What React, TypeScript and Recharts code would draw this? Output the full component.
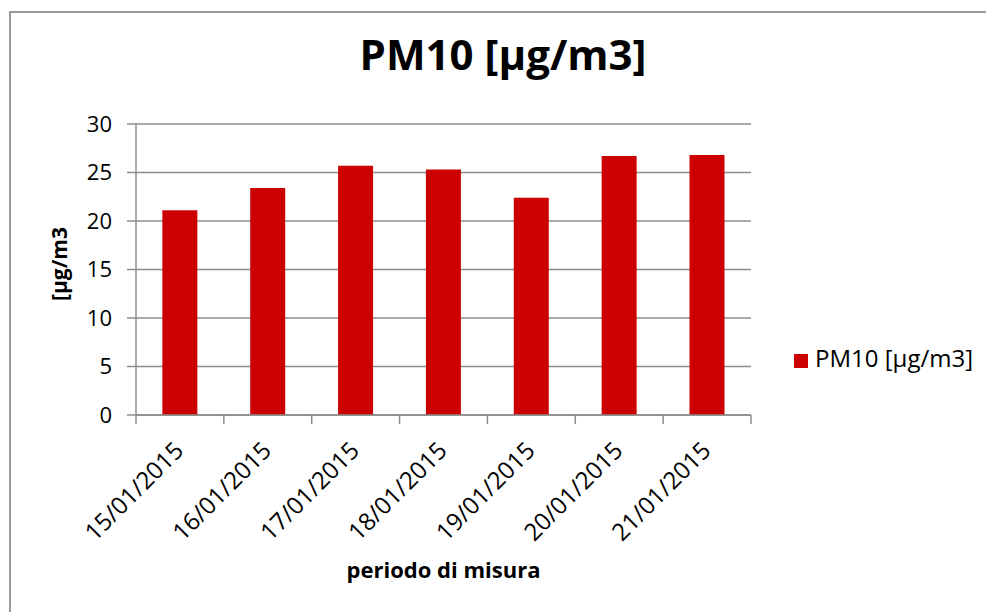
import { BarChart, Bar, XAxis, YAxis, CartesianGrid, Legend, Label } from 'recharts'

const dates = [
  '15/01/2015',
  '16/01/2015',
  '17/01/2015',
  '18/01/2015',
  '19/01/2015',
  '20/01/2015',
  '21/01/2015',
]
const pm10 = [21.1, 23.4, 25.7, 25.3, 22.4, 26.7, 26.8]
const yTicks = [0, 5, 10, 15, 20, 25, 30]

const seriesName = 'PM10 [µg/m3]'
const data = dates.map((date, i) => ({ date, pm10: pm10[i] }))

const GRID = '#8c8c8c'
const FONT = "'Open Sans', sans-serif"
const X_TICK_GAP = 25

// excel-style category axis: tick marks sit between the categories
function DateTick(props: any) {
  const { x, y, payload, index, visibleTicksCount } = props
  const axisY = y - X_TICK_GAP
  const half = payload.offset ?? 0
  const tx = x - 7
  return (
    <g>
      <line x1={x - half} x2={x - half} y1={axisY} y2={axisY + 9} stroke={GRID} strokeWidth={1.5} />
      {index === visibleTicksCount - 1 && (
        <line x1={x + half} x2={x + half} y1={axisY} y2={axisY + 9} stroke={GRID} strokeWidth={1.5} />
      )}
      <text
        x={tx}
        y={y}
        dy="0.71em"
        textAnchor="end"
        transform={`rotate(-45, ${tx}, ${y})`}
        fontSize={24}
        fill="#000"
      >
        {payload.value}
      </text>
    </g>
  )
}

export default function App() {
  return (
    <div
      style={{
        position: 'absolute',
        left: 0,
        top: 0,
        width: 986,
        height: 612,
        overflow: 'hidden',
        background: '#fff',
        fontFamily: FONT,
      }}
    >
      {/* chart frame, only top/left edges are inside the picture */}
      <div
        style={{
          position: 'absolute',
          left: 9,
          top: 11,
          width: 1000,
          height: 700,
          borderLeft: '2px solid #9a9a9a',
          borderTop: '2px solid #9a9a9a',
        }}
      />
      <div
        style={{
          position: 'absolute',
          left: 9,
          width: 988,
          top: 33,
          textAlign: 'center',
          fontSize: 42,
          lineHeight: 1,
          fontWeight: 700,
          color: '#000',
        }}
      >
        {seriesName}
      </div>
      <div style={{ position: 'absolute', left: 0, top: 0 }}>
        <BarChart
          width={986}
          height={612}
          data={data}
          margin={{ top: 124, right: 235, left: 76, bottom: 196 }}
          barCategoryGap="30%"
        >
          <CartesianGrid vertical={false} stroke={GRID} strokeWidth={1.5} />
          <XAxis
            dataKey="date"
            height={1}
            interval={0}
            tickLine={false}
            axisLine={{ stroke: GRID, strokeWidth: 1.5 }}
            tickSize={0}
            tickMargin={X_TICK_GAP}
            tick={<DateTick />}
          >
            <Label
              content={({ viewBox }: any) => (
                <text
                  x={viewBox.x + viewBox.width / 2}
                  y={415 + 163}
                  textAnchor="middle"
                  fontSize={22}
                  fontWeight={700}
                  fill="#000"
                >
                  periodo di misura
                </text>
              )}
            />
          </XAxis>
          <YAxis
            width={60}
            domain={[0, 30]}
            ticks={yTicks}
            interval={0}
            tickSize={9}
            tickMargin={15}
            axisLine={{ stroke: GRID, strokeWidth: 1.5 }}
            tickLine={{ stroke: GRID, strokeWidth: 1.5 }}
            tick={{ fill: '#000', fontSize: 22 }}
          >
            <Label
              content={({ viewBox }: any) => {
                const x = viewBox.x - 9.5
                const y = viewBox.y + viewBox.height / 2 - 5.5
                return (
                  <text
                    x={x}
                    y={y}
                    transform={`rotate(-90, ${x}, ${y})`}
                    textAnchor="middle"
                    fontSize={21}
                    fontWeight={700}
                    fill="#000"
                  >
                    [µg/m3
                  </text>
                )
              }}
            />
          </YAxis>
          <Legend
            layout="vertical"
            align="center"
            verticalAlign="middle"
            iconType="square"
            iconSize={14}
            wrapperStyle={{ left: 794, top: 341, width: 190, fontSize: 24 }}
            formatter={(v: string) => (
              <span style={{ color: '#000', marginLeft: 3 }}>{v}</span>
            )}
          />
          <Bar
            dataKey="pm10"
            name={seriesName}
            fill="#cc0000"
            isAnimationActive={false}
          />
        </BarChart>
      </div>
    </div>
  )
}
